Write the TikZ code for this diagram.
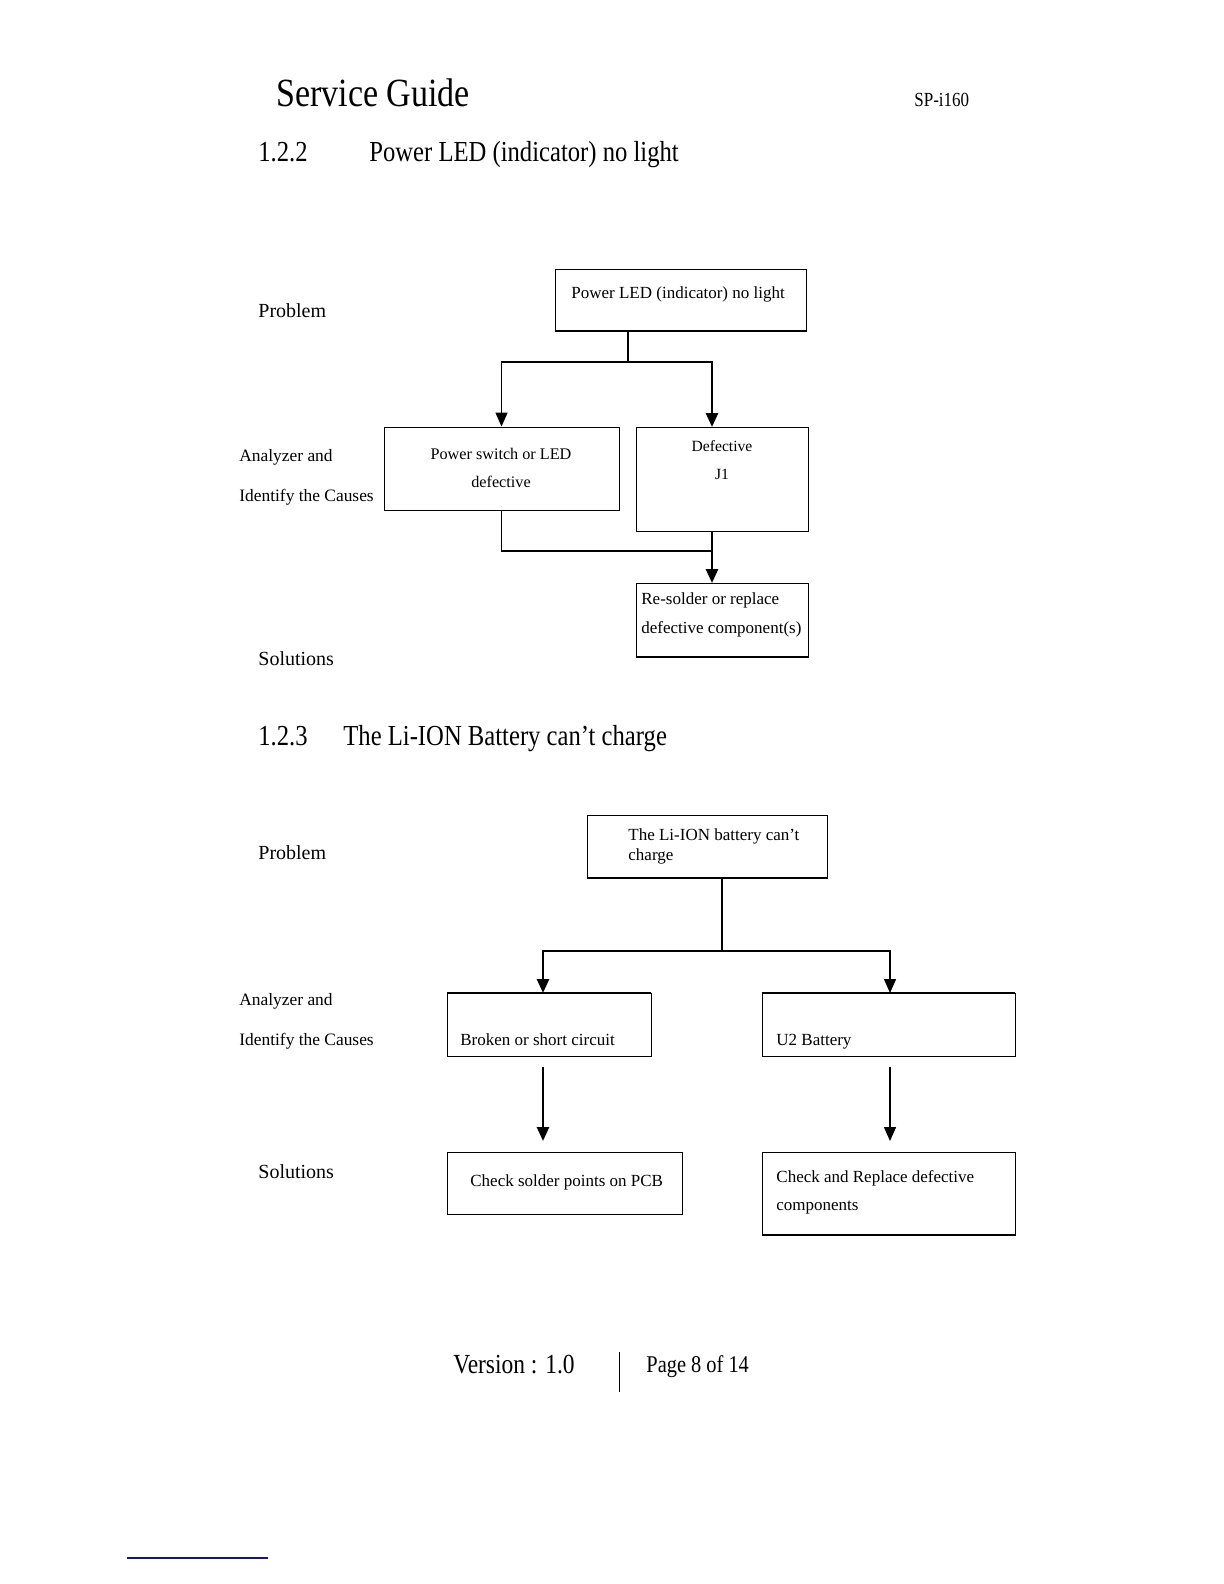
\documentclass[tikz,border=0pt]{standalone}
\usepackage{fontspec}
\setmainfont{Liberation Serif}
\newfontfamily\condfont{Liberation Serif}[FakeStretch=0.85]
\usetikzlibrary{arrows.meta,fit}
\definecolor{navyline}{RGB}{20,20,130}
\newcommand{\fsz}[1]{\fontsize{#1}{#1}\selectfont}
\begin{document}
\begin{tikzpicture}[x=0.5pt,y=-0.5pt,
  box/.style={draw,line width=0.45pt,inner sep=0pt},
  edge/.style={line width=1pt},
  conn/.style={line width=0.7pt},
  connthick/.style={line width=1.3pt},
  arr/.style={-{Triangle[width=6pt,length=7pt]}},
  txt/.style={anchor=base west,inner sep=0pt,font=\fsz{8.5pt}},
  txtc/.style={anchor=base,inner sep=0pt,font=\fsz{8.5pt}},
  lbl/.style={anchor=base west,inner sep=0pt,font=\fsz{10pt}},
  lbls/.style={anchor=base west,inner sep=0pt,font=\fsz{8.7pt}},
  head/.style={anchor=base west,inner sep=0pt,font=\condfont\fsz{14.5pt}}]
\useasboundingbox (0,0) rectangle (1224,1584);

% header
\node[anchor=base west,inner sep=0pt,font=\condfont\fsz{20pt}] (title) at (276,106) {Service Guide};
\node[anchor=base west,inner sep=0pt,font=\condfont\fsz{10pt}] (model) at (914,106) {SP-i160};

% ---------- Section 1.2.2 ----------
\node[head] (s1num) at (258,162) {1.2.2};
\node[head] (s1tit) at (369,162) {Power LED (indicator) no light};

\node[lbl] (p1) at (258,317) {Problem};
\node[lbls] (a1a) at (239,461) {Analyzer and};
\node[lbls] (a1b) at (239,501) {Identify the Causes};
\node[lbl] (so1) at (258,665) {Solutions};

\node[box,fit={(555,269)(806,331)}] (b1) {};
\draw[edge] (b1.south west) -- (b1.south east);
\node[txt] (b1t) at (571,298) {Power LED (indicator) no light};

\node[box,fit={(384,427)(619,510)}] (b2) {};
\node[txtc,font=\fsz{8.1pt}] (b2t1) at (501,459) {Power switch or LED};
\node[txtc,font=\fsz{8.1pt}] (b2t2) at (501,487) {defective};

\node[box,fit={(636,427)(808,531)}] (b3) {};
\node[txtc,font=\fsz{7.8pt}] (b3t1) at (722,451) {Defective};
\node[txtc,font=\fsz{7.8pt}] (b3t2) at (722,479) {J1};

\node[box,fit={(636,583)(808,657)}] (b4) {};
\draw[edge] (b4.south west) -- (b4.south east);
\node[txt] (b4t1) at (641,604) {Re-solder or replace};
\node[txt] (b4t2) at (641,633) {defective component(s)};

\coordinate (o1) at (628,331);
\coordinate (j1) at (628,362);
\coordinate (e3) at (712,427);
\coordinate (o3) at (712,531);
\coordinate (j2) at (712,551);
\coordinate (e4) at (712,583);

\draw[connthick] (o1) -- (j1);
\draw[conn,arr] (j1) -| (b2.north);
\draw[connthick,arr] (j1) -| (e3);
\draw[conn] (b2.south) |- (j2);
\draw[connthick,arr] (o3) -- (e4);

% ---------- Section 1.2.3 ----------
\node[head] (s2num) at (258,745) {1.2.3};
\node[head] (s2tit) at (343,745) {The Li-ION Battery can’t charge};

\node[lbl] (p2) at (258,859) {Problem};
\node[lbls] (a2a) at (239,1005) {Analyzer and};
\node[lbls] (a2b) at (239,1045) {Identify the Causes};
\node[lbl] (so2) at (258,1178) {Solutions};

\node[box,fit={(587,815)(827,878)}] (b5) {};
\draw[edge] (b5.south west) -- (b5.south east);
\node[txt] (b5t1) at (628,840) {The Li-ION battery can’t};
\node[txt] (b5t2) at (628,860) {charge};

\node[box,fit={(447,993)(651,1056)}] (b6) {};
\draw[edge] (b6.north west) -- (b6.north east);
\node[txt] (b6t) at (460,1045) {Broken or short circuit};

\node[box,fit={(762,993)(1015,1056)}] (b7) {};
\draw[edge] (b7.north west) -- (b7.north east);
\node[txt] (b7t) at (776,1045) {U2 Battery};

\node[box,fit={(447,1152)(682,1214)}] (b8) {};
\node[txt] (b8t) at (470,1186) {Check solder points on PCB};

\node[box,fit={(762,1152)(1015,1235)}] (b9) {};
\draw[edge] (b9.south west) -- (b9.south east);
\node[txt] (b9t1) at (776,1182) {Check and Replace defective};
\node[txt] (b9t2) at (776,1210) {components};

\coordinate (o5) at (722,878);
\coordinate (j5) at (722,951);
\coordinate (e6) at (543,993);
\coordinate (e7) at (890,993);
\coordinate (s6) at (543,1067);
\coordinate (t8) at (543,1141);
\coordinate (s7) at (890,1067);
\coordinate (t9) at (890,1141);

\draw[conn] (o5) -- (j5);
\draw[connthick,arr] (j5) -| (e6);
\draw[conn,arr] (j5) -| (e7);
\draw[connthick,arr] (s6) -- (t8);
\draw[conn,arr] (s7) -- (t9);

% ---------- footer ----------
\node[anchor=base west,inner sep=0pt,font=\condfont\fsz{13.8pt}] (ver) at (453,1373) {Version : 1.0};
\coordinate (v1) at (619,1352);
\coordinate (v2) at (619,1392);
\draw[line width=0.5pt] (v1) -- (v2);
\node[anchor=base west,inner sep=0pt,font=\condfont\fsz{12pt}] (page) at (646,1372) {Page 8 of 14};
\coordinate (bl1) at (127,1558);
\coordinate (bl2) at (268,1558);
\draw[navyline,line width=0.8pt] (bl1) -- (bl2);
\end{tikzpicture}
\end{document}
